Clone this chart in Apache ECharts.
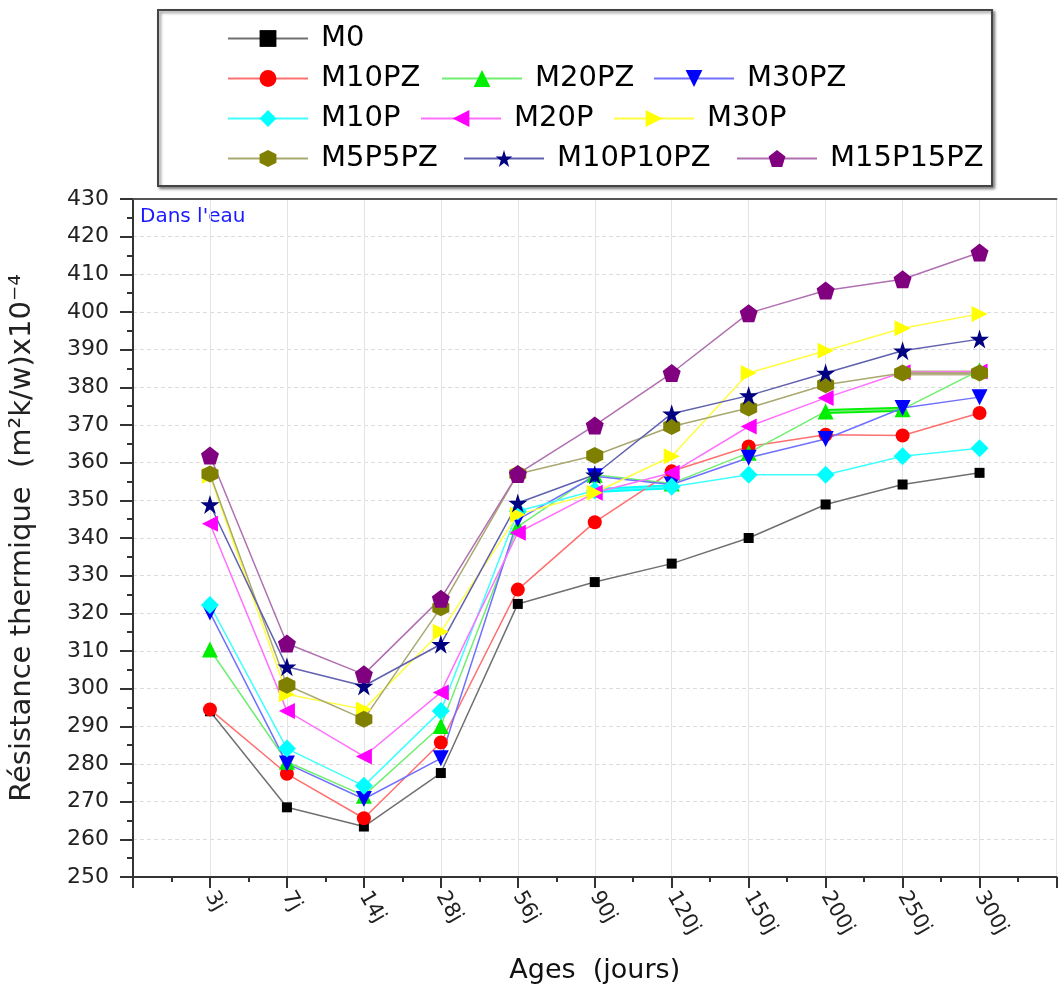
<!DOCTYPE html>
<html>
<head>
<meta charset="utf-8">
<script src="https://cdn.jsdelivr.net/npm/echarts@6/dist/echarts.min.js"></script>
<style>
  html, body { margin: 0; padding: 0; background: #fff; }
  #chart { width: 1058px; height: 989px; }
</style>
</head>
<body>
<div id="chart"></div>
<script>
// ages (x categories)
const ageLabels = ['3j', '7j', '14j', '28j', '56j', '90j', '120j', '150j', '200j', '250j', '300j']

// resistance thermique x10^-4
const M0 = [294, 268.5, 263.4, 277.6, 322.5, 328.3, 333.2, 340.0, 348.9, 354.2, 357.3]
const M10PZ = [294.5, 277.4, 265.6, 285.7, 326.3, 344.2, 357.7, 364.3, 367.4, 367.2, 373.2]
const M20PZ = [310.4, 280.6, 271.6, 290.1, 343.0, 356.8, 354.5, 362.6, 373.6, 374.2, 384.5]
const M30PZ = [320.2, 280.1, 270.7, 281.5, 344.9, 356.4, 354.2, 361.3, 366.3, 374.5, 377.4]
const M10P = [322.2, 284.1, 274.2, 294.1, 347.1, 352.6, 353.6, 356.8, 356.8, 361.7, 363.8]
const M20P = [343.8, 294.1, 282.0, 299.0, 341.4, 352.0, 357.3, 369.6, 377.2, 384.0, 384.2]
const M30P = [356.5, 298.5, 294.5, 315.1, 346.2, 352.0, 361.7, 383.8, 389.7, 395.7, 399.5]
const M5P5PZ = [357.0, 300.9, 291.9, 321.5, 357.0, 361.9, 369.6, 374.5, 380.7, 383.8, 383.8]
const M10P10PZ = [348.9, 305.8, 300.7, 311.8, 349.3, 356.8, 373.0, 377.8, 383.8, 389.7, 392.8]
const M15P15PZ = [361.9, 312.0, 303.8, 323.9, 357.0, 369.9, 383.8, 399.7, 405.7, 408.7, 415.8]

const FONT = 'DejaVu Sans'

const SYM = {
  down: 'path://M0,0L10,0L5,9Z',
  left: 'path://M0,5L9,0L9,10Z',
  right: 'path://M0,0L9,5L0,10Z',
  hexa: 'path://M5,0L9.33,2.5L9.33,7.5L5,10L0.67,7.5L0.67,2.5Z',
  star: 'path://M5,0L6.18,3.6L10,3.6L6.9,5.85L8.09,9.5L5,7.25L1.91,9.5L3.1,5.85L0,3.6L3.82,3.6Z',
  penta: 'path://M5,0L10,3.7L8.1,9.6L1.9,9.6L0,3.7Z'
}

const seriesDef = [
  { name: 'M0', data: M0, color: '#000000', line: '#707070', symbol: 'rect', size: 10 },
  { name: 'M10PZ', data: M10PZ, color: '#ff0000', line: '#ff7070', symbol: 'circle', size: 14 },
  { name: 'M20PZ', data: M20PZ, color: '#00ee00', line: '#70ee70', symbol: 'triangle', size: 16 },
  { name: 'M30PZ', data: M30PZ, color: '#0000ff', line: '#7070ff', symbol: SYM.down, size: 16 },
  { name: 'M10P', data: M10P, color: '#00ffff', line: '#40ffff', symbol: 'diamond', size: 18 },
  { name: 'M20P', data: M20P, color: '#ff00ff', line: '#ff70ff', symbol: SYM.left, size: 16 },
  { name: 'M30P', data: M30P, color: '#ffff00', line: '#ffff40', symbol: SYM.right, size: 16 },
  { name: 'M5P5PZ', data: M5P5PZ, color: '#808000', line: '#a8a870', symbol: SYM.hexa, size: 17 },
  { name: 'M10P10PZ', data: M10P10PZ, color: '#000080', line: '#6060b0', symbol: SYM.star, size: 19 },
  { name: 'M15P15PZ', data: M15P15PZ, color: '#800080', line: '#b070b0', symbol: SYM.penta, size: 18 }
]

const toXY = (arr) => arr.map((v, i) => [i + 1, v])

const series = seriesDef.map((s) => ({
  name: s.name,
  type: 'line',
  data: toXY(s.data),
  symbol: s.symbol,
  symbolSize: s.size,
  itemStyle: { color: s.color },
  lineStyle: { color: s.line, width: 1.5 },
  emphasis: { disabled: true }
}))

// thick overdrawn segments seen in the figure
const thick = [
  { data: M10P, from: 5, color: '#00ffff' },
  { data: M20PZ, from: 8, color: '#00ee00' },
  { data: M5P5PZ, from: 9, color: '#b8b088' }
]
thick.forEach((t) => {
  series.push({
    type: 'line',
    data: toXY(t.data).slice(t.from, t.from + 2),
    symbol: 'none',
    lineStyle: { color: t.color, width: 5 },
    z: 1,
    silent: true
  })
})

// legend positions (one legend per item)
const legendPos = [
  ['M0', 222, 37],
  ['M10PZ', 222, 77], ['M20PZ', 436, 77], ['M30PZ', 648, 77],
  ['M10P', 222, 117], ['M20P', 415, 117], ['M30P', 608, 117],
  ['M5P5PZ', 222, 157], ['M10P10PZ', 458, 157], ['M15P15PZ', 731, 157]
]
const legends = legendPos.map(([name, x, y]) => ({
  data: [name],
  left: x,
  top: y - 18,
  itemWidth: 80,
  itemHeight: 21,
  selectedMode: false,
  textStyle: { fontFamily: FONT, fontSize: 29, color: '#000', padding: [0, 0, 0, 8] }
}))

const chart = echarts.init(document.getElementById('chart'))
chart.setOption({
  animation: false,
  backgroundColor: '#fff',
  legend: legends,
  grid: { left: 132, right: 0, top: 199, bottom: 111 },
  graphic: [
    {
      type: 'rect',
      shape: { x: 158, y: 10, width: 834, height: 176 },
      style: { fill: '#fff', stroke: '#444', lineWidth: 2, shadowBlur: 3, shadowOffsetX: 2, shadowOffsetY: 2, shadowColor: 'rgba(0,0,0,0.45)' },
      z: -1
    },
    {
      type: 'text',
      left: 140,
      top: 207,
      style: { text: "Dans l'eau", fill: '#1a1aff', font: '20px "DejaVu Sans"' }
    }
  ],
  xAxis: [
    {
      type: 'value',
      min: 0,
      max: 12,
      interval: 1,
      name: 'Ages  (jours)',
      nameLocation: 'middle',
      nameGap: 80,
      nameTextStyle: { fontFamily: FONT, fontSize: 27, color: '#111' },
      axisLine: { lineStyle: { color: '#333', width: 2 } },
      axisTick: { length: 11, lineStyle: { color: '#333', width: 2 } },
      minorTick: { show: true, splitNumber: 2, length: 5, lineStyle: { color: '#333', width: 2 } },
      splitLine: { show: true, lineStyle: { color: '#e4e4e4', width: 1 } },
      axisLabel: {
        rotate: -60,
        margin: 16,
        fontFamily: FONT,
        fontSize: 21,
        color: '#222',
        formatter: (v) => ageLabels[v - 1] || ''
      }
    },
    {
      type: 'value',
      position: 'top',
      min: 0,
      max: 12,
      axisLine: { show: true, onZero: false, lineStyle: { color: '#555', width: 2 } },
      axisTick: { show: false },
      axisLabel: { show: false },
      splitLine: { show: false }
    }
  ],
  yAxis: {
    type: 'value',
    min: 250,
    max: 430,
    interval: 10,
    name: 'Résistance thermique  (m²k/w)x10⁻⁴',
    nameLocation: 'middle',
    nameGap: 96,
    nameTextStyle: { fontFamily: FONT, fontSize: 29, color: '#222' },
    axisLine: { show: true, lineStyle: { color: '#333', width: 2 } },
    axisTick: { show: true, length: 13, lineStyle: { color: '#333', width: 2 } },
    minorTick: { show: true, splitNumber: 2, length: 6, lineStyle: { color: '#333', width: 2 } },
    splitLine: { show: true, lineStyle: { color: '#dcdcdc', type: [4, 3], width: 1 } },
    axisLabel: { margin: 24, fontFamily: FONT, fontSize: 22, color: '#222' }
  },
  series: series
})
</script>
</body>
</html>
